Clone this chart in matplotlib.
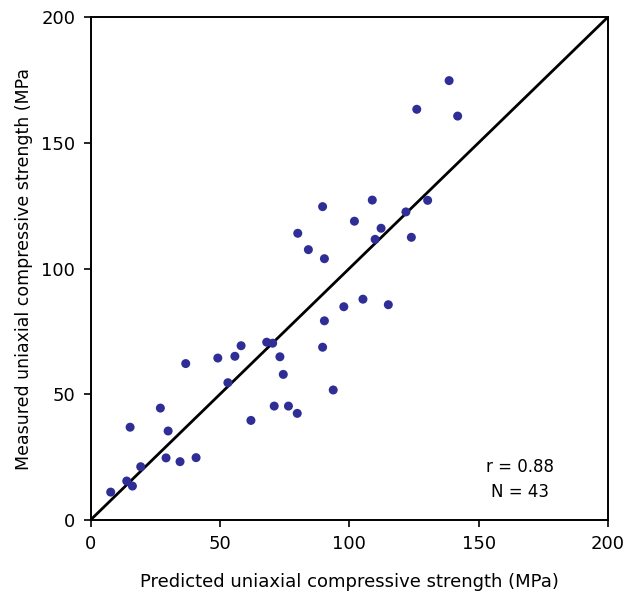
import matplotlib
matplotlib.use("Agg")
import matplotlib.pyplot as plt

predicted = [7.8, 14.0, 16.2, 19.4, 15.3, 29.2, 34.6, 40.8, 27.0, 30.0, 36.8, 49.2,
             55.8, 58.2, 53.1, 62.0, 68.1, 70.4, 73.2, 74.5, 71.0, 76.5, 79.9,
             89.7, 108.9, 80.1, 84.2, 90.4, 102.0, 112.3, 110.0, 121.9, 124.0, 130.3,
             105.3, 97.9, 115.1, 90.4, 89.7, 93.8,
             138.6, 126.1, 141.9]
measured = [11.1, 15.5, 13.5, 21.2, 36.9, 24.7, 23.2, 24.8, 44.5, 35.4, 62.2, 64.4,
            65.1, 69.3, 54.6, 39.6, 70.7, 70.3, 64.9, 57.9, 45.3, 45.3, 42.4,
            124.6, 127.2, 114.0, 107.5, 103.9, 118.8, 116.0, 111.6, 122.5, 112.4, 127.1,
            87.8, 84.8, 85.6, 79.2, 68.7, 51.7,
            174.7, 163.3, 160.6]
line_x = [0, 200]
line_y = [0, 200]
ticks = [0, 50, 100, 150, 200]
stats_text = "r = 0.88\nN = 43"

fig = plt.figure(figsize=(6.29, 6.0), dpi=100)
ax = fig.add_axes([0.1439, 0.1333, 0.8227, 0.8384])
ax.plot(line_x, line_y, color="black", lw=2.0, zorder=2)
ax.scatter(predicted, measured, s=42, color="#2E2E96", edgecolors="none", zorder=3)
ax.set_xlim(0, 200)
ax.set_ylim(0, 200)
ax.set_xticks(ticks)
ax.set_yticks(ticks)
ax.tick_params(direction="out", length=5, width=1.2, labelsize=13, pad=6)
for s in ax.spines.values():
    s.set_linewidth(1.4)
ax.set_xlabel("Predicted uniaxial compressive strength (MPa)", fontsize=13, labelpad=14)
ax.set_ylabel("Measured uniaxial compressive strength (MPa", fontsize=12.5, labelpad=6)
ax.text(166, 16, stats_text, ha="center", va="center", fontsize=12, linespacing=1.5)
fig.savefig("out.png", dpi=100)
